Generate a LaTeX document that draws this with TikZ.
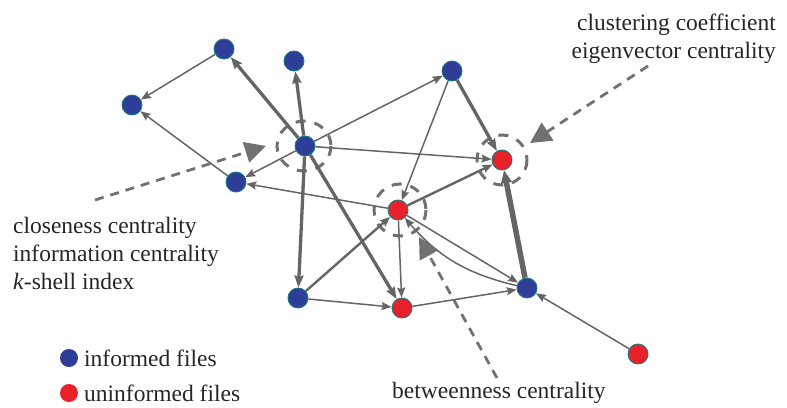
\documentclass[tikz,border=0pt]{standalone}
\usepackage{fontspec}
\setmainfont{Liberation Serif}
\usetikzlibrary{arrows.meta}
\definecolor{nblue}{HTML}{2E3E98}
\definecolor{nred}{HTML}{E8212B}
\definecolor{nrim}{HTML}{1C7B7E}
\definecolor{egray}{HTML}{656565}
\definecolor{dgray}{HTML}{717171}
\tikzset{
  inf/.style={circle,fill=nblue,draw=nrim,line width=0.9pt,minimum size=20pt,inner sep=0pt},
  uninf/.style={circle,fill=nred,draw=nrim,line width=0.9pt,minimum size=20pt,inner sep=0pt},
  edge/.style={draw=egray,line width=1.5pt,-{Stealth[length=10pt,width=8pt,inset=1.5pt]}},
  medge/.style={edge,line width=2.4pt},
  tedge/.style={edge,line width=3.3pt,-{Stealth[length=12pt,width=9pt,inset=1.5pt]}},
  vtedge/.style={edge,line width=5.5pt,-{Stealth[length=13pt,width=11pt,inset=1.5pt]}},
  dring/.style={draw=dgray,line width=3pt,dash pattern=on 10pt off 9pt},
  dasharrow/.style={draw=dgray,line width=2.8pt,dash pattern=on 9pt off 7pt,-{Triangle[length=21pt,width=21pt]}},
  lbl/.style={font=\fontsize{23.5}{28}\selectfont,inner sep=0pt,text=black!85}
}
\begin{document}
\begin{tikzpicture}[x=1pt,y=-1pt]
\useasboundingbox (0,0) rectangle (787,407);
% dashed rings
\draw[dring] (304,146) ellipse (27 and 25);
\draw[dring] (502,160) circle (25);
\draw[dring] (400,210) circle (26);
% nodes
\node[inf] (A) at (224,49) {};
\node[inf] (B) at (294,61) {};
\node[inf] (C) at (132,105) {};
\node[inf] (D) at (305,146) {};
\node[inf] (E) at (236,182) {};
\node[inf] (F) at (452,71) {};
\node[uninf] (G) at (502,160) {};
\node[uninf] (H) at (398,210) {};
\node[inf] (I) at (298,298) {};
\node[uninf] (J) at (402,308) {};
\node[inf] (K) at (527,288) {};
\node[uninf] (L) at (638,354) {};
% edges
\draw[edge] (A) -- (C);
\draw[edge] (E) -- (C);
\draw[tedge] (D) -- (A);
\draw[tedge] (D) -- (B);
\draw[edge] (D) -- (E);
\draw[edge] (D) -- (F);
\draw[edge] (D) -- (G);
\draw[tedge] (D) -- (I);
\draw[tedge] (D) -- (J);
\draw[edge] (H) -- (E);
\draw[edge] (F) -- (H);
\draw[tedge] (F) -- (G);
\draw[medge] (H) -- (G);
\draw[vtedge] (K) -- (G);
\draw[medge] (I) -- (H);
\draw[edge] (I) -- (J);
\draw[edge] (H) -- (J);
\draw[edge] (H) -- (K);
\draw[edge] (K) to[bend left=18] (H);
\draw[edge] (J) -- (K);
\draw[edge] (L) -- (K);
% dashed pointers
\coordinate (p1s) at (95,200);
\coordinate (p1e) at (266,146);
\coordinate (p2s) at (648,66);
\coordinate (p2e) at (530,143);
\coordinate (p3s) at (497,378);
\coordinate (p3e) at (419,237);
\draw[dasharrow] (p1s) -- (p1e);
\draw[dasharrow] (p2s) -- (p2e);
\draw[dasharrow] (p3s) -- (p3e);
% labels
\node[lbl,anchor=base east] (t1) at (776,30) {clustering coefficient};
\node[lbl,anchor=base east] (t2) at (776,58) {eigenvector centrality};
\node[lbl,anchor=base west] (t3) at (13,233) {closeness centrality};
\node[lbl,anchor=base west] (t4) at (13,261) {information centrality};
\node[lbl,anchor=base west] (t5) at (13,289) {\textit{k}-shell index};
\node[lbl,anchor=base west] (t6) at (392,398) {betweenness centrality};
\node[circle,fill=nblue,minimum size=18pt,inner sep=0pt] (lb) at (69,358) {};
\node[circle,fill=nred,minimum size=18pt,inner sep=0pt] (lr) at (69,393) {};
\node[lbl,anchor=base west] (t7) at (84,366) {informed files};
\node[lbl,anchor=base west] (t8) at (84,401) {uninformed files};
\end{tikzpicture}
\end{document}
